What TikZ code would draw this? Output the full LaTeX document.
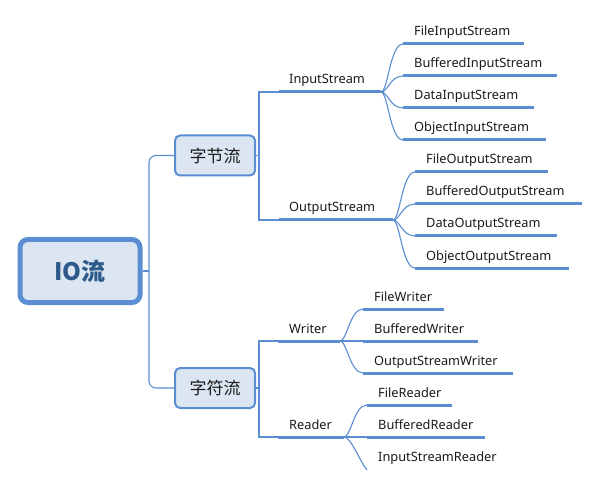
\documentclass[tikz,border=0pt]{standalone}
\usepackage{fontspec}
\setmainfont{Noto Sans}
\newfontfamily\cjk{Noto Sans CJK SC}
\usetikzlibrary{calc}
\definecolor{lc}{HTML}{5B8DD3}
\definecolor{bfill}{HTML}{DCE6F2}
\definecolor{rtxt}{HTML}{2E5A8A}
\definecolor{txt}{HTML}{1A1A1A}
\tikzset{
  thinln/.style={draw=lc, line width=1.1pt},
  under/.style={draw=lc, line width=3pt},
  lbl/.style={anchor=base west, inner sep=0pt, text=txt, font=\fontsize{12.8}{14}\selectfont},
  catbox/.style={draw=lc, fill=bfill, line width=2pt, rounded corners=5pt, minimum width=80pt, minimum height=40pt, inner sep=0pt, text=txt, font=\cjk\fontsize{17}{18}\selectfont},
  rootbox/.style={draw=lc, fill=bfill, line width=5pt, rounded corners=8pt, minimum width=120pt, minimum height=63pt, inner sep=0pt, text=rtxt, font=\cjk\bfseries\fontsize{24}{26}\selectfont},
}
% leaf: parent, name, x0, y, x1, text
\newcommand\leafnode[6]{%
  \coordinate (#2L) at (#3,#4);
  \coordinate (#2R) at (#5,#4);
  \node[lbl] (#2) at ($(#2L)+(11,-8)$) {#6};
  \draw[under] (#2L) -- (#2R);
  \draw[thinln] (#1) .. controls +(7,0) and +(-13,0) .. (#2L);
}
\begin{document}
\begin{tikzpicture}[x=1pt,y=-1pt]
\path[use as bounding box] (0,0) rectangle (599,486);

% boxes
\node[rootbox] (root) at (80,271) {IO流};
\node[catbox] (zj) at (215,155.5) {字节流};
\node[catbox] (zf) at (215,388) {字符流};

% root connectors
\coordinate (rj) at (149,271);
\draw[thinln] (root.east) -- (rj);
\draw[thinln, rounded corners=7pt] (zj.west) -| (rj) |- (zf.west);

% byte stream branches
\coordinate (zjJ) at (259,155.5);
\coordinate (isS) at (279,92);
\coordinate (isE) at (381,92);
\coordinate (osS) at (279,220);
\coordinate (osE) at (393,220);
\draw[thinln] (zj.east) -- (zjJ);
\draw[thinln] (isS) -| (zjJ) |- (osS);
\draw[under] (isS) -- (isE);
\draw[under] (osS) -- (osE);
\node[lbl] (is) at (289,84) {InputStream};
\node[lbl] (os) at (289,212) {OutputStream};

\leafnode{isE}{fis}{403}{44}{524}{FileInputStream}
\leafnode{isE}{bis}{403}{76}{557}{BufferedInputStream}
\leafnode{isE}{dis}{403}{108}{534}{DataInputStream}
\leafnode{isE}{ois}{403}{140}{546}{ObjectInputStream}

\leafnode{osE}{fos}{415}{172}{548}{FileOutputStream}
\leafnode{osE}{bos}{415}{204}{582}{BufferedOutputStream}
\leafnode{osE}{dos}{415}{236}{557}{DataOutputStream}
\leafnode{osE}{oos}{415}{268}{569}{ObjectOutputStream}

% char stream branches
\coordinate (zfJ) at (259,388);
\coordinate (wS) at (278,341);
\coordinate (wE) at (340,341);
\coordinate (rS) at (278,437);
\coordinate (rE) at (344,437);
\draw[thinln] (zf.east) -- (zfJ);
\draw[thinln] (wS) -| (zfJ) |- (rS);
\draw[under] (wS) -- (wE);
\draw[under] (rS) -- (rE);
\node[lbl] (wr) at (289,333) {Writer};
\node[lbl] (rd) at (289,429) {Reader};

\leafnode{wE}{fw}{363}{309}{444}{FileWriter}
\leafnode{wE}{bw}{363}{341}{478}{BufferedWriter}
\leafnode{wE}{osw}{363}{373}{513}{OutputStreamWriter}

\leafnode{rE}{fr}{367}{405}{452}{FileReader}
\leafnode{rE}{br}{367}{437}{485}{BufferedReader}
\coordinate (isrL) at (367,470);
\node[lbl] (isr) at (378,461) {InputStreamReader};
\draw[thinln] (rE) .. controls +(7,0) and +(-8,-10) .. (isrL);
\end{tikzpicture}
\end{document}
